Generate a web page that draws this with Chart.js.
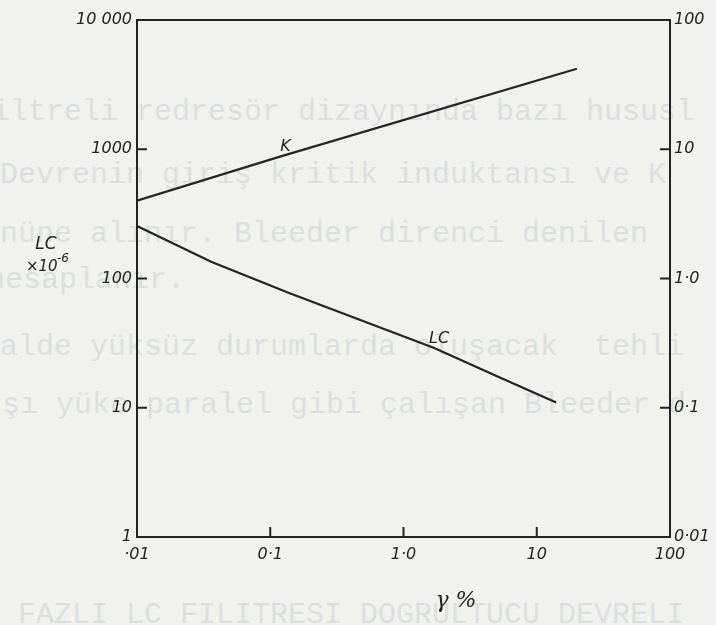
<!DOCTYPE html>
<html>
<head>
<meta charset="utf-8">
<script src="https://cdn.jsdelivr.net/npm/chart.js@4/dist/chart.umd.min.js"></script>
<style>
  html, body { margin: 0; padding: 0; background: #f1f1ed; overflow: hidden; }
  #wrap { position: relative; width: 716px; height: 625px; }
  .bg { position: absolute; left: 0; white-space: pre; font-family: "Liberation Mono", "DejaVu Sans Mono", monospace;
        font-size: 30px; line-height: 30px; color: #dcdfdf; }
  canvas { position: absolute; left: 0; top: 0; }
</style>
</head>
<body>
<div id="wrap">
  <div class="bg" style="top:97px;left:-8px">iltreli redresör dizaynında bazı hususl</div>
  <div class="bg" style="top:160px;left:0px">Devrenin giriş kritik induktansı ve K</div>
  <div class="bg" style="top:219px;left:0px">nüne alınır. Bleeder direnci denilen</div>
  <div class="bg" style="top:265px;left:-13px">hesaplanır.</div>
  <div class="bg" style="top:332px;left:0px">alde yüksüz durumlarda oluşacak  tehli</div>
  <div class="bg" style="top:390px;left:2px">şı yüke paralel gibi çalışan Bleeder d</div>
  <div class="bg" style="top:600px;left:18px">FAZLI LC FILITRESI DOGRULTUCU DEVRELI</div>
  <canvas id="c" width="716" height="625"></canvas>
</div>
<script>
// ---- data ----
const xTicks = [0.01, 0.1, 1, 10, 100];
const xTickLabels = ["·01", "0·1", "1·0", "10", "100"];
const leftTicks = [1, 10, 100, 1000, 10000];
const leftTickLabels = ["1", "10", "100", "1000", "10 000"];
const rightTicks = [0.01, 0.1, 1, 10, 100];
const rightTickLabels = ["0·01", "0·1", "1·0", "10", "100"];

const gammaLC = [0.01, 0.036, 0.14, 1.7, 5.6, 14];
const lcValues = [255, 135, 77, 29, 16.7, 11];
const gammaK = [0.01, 0.12, 20];
const kValues = [4.0, 8.8, 42];

const ink = "#232323";
const labelFont = { family: "'DejaVu Sans', 'Liberation Sans', sans-serif", size: 16, style: "italic" };

function pts(xs, ys) { return xs.map((x, i) => ({ x: x, y: ys[i] })); }
function labelFor(ticksArr, labels, v) {
  const i = ticksArr.findIndex(t => Math.abs(Math.log10(t) - Math.log10(v)) < 1e-6);
  return i >= 0 ? labels[i] : "";
}

const decorate = {
  id: "decorate",
  afterDraw(chart) {
    const ctx = chart.ctx;
    const a = chart.chartArea;
    const sx = chart.scales.x, sl = chart.scales.yL, sr = chart.scales.yR;
    ctx.save();
    ctx.strokeStyle = ink;
    ctx.lineWidth = 2;
    // frame
    ctx.strokeRect(a.left, a.top, a.right - a.left, a.bottom - a.top);
    // inner ticks
    const len = 10;
    ctx.beginPath();
    leftTicks.forEach(v => {
      const y = sl.getPixelForValue(v);
      if (y > a.top + 2 && y < a.bottom - 2) { ctx.moveTo(a.left, y); ctx.lineTo(a.left + len, y); }
    });
    rightTicks.forEach(v => {
      const y = sr.getPixelForValue(v);
      if (y > a.top + 2 && y < a.bottom - 2) { ctx.moveTo(a.right - len, y); ctx.lineTo(a.right, y); }
    });
    xTicks.forEach(v => {
      const x = sx.getPixelForValue(v);
      if (x > a.left + 2 && x < a.right - 2) { ctx.moveTo(x, a.bottom); ctx.lineTo(x, a.bottom - len); }
    });
    ctx.stroke();

    // curve labels
    ctx.fillStyle = ink;
    ctx.font = "italic 16px 'DejaVu Sans', sans-serif";
    ctx.textAlign = "center";
    ctx.textBaseline = "middle";
    ctx.fillText("K", sx.getPixelForValue(0.13), sr.getPixelForValue(10.5));
    ctx.fillText("LC", sx.getPixelForValue(1.85), sl.getPixelForValue(34));

    // left axis title
    ctx.font = "italic 17px 'DejaVu Sans', sans-serif";
    ctx.fillText("LC", 46, 245);
    ctx.font = "italic 15px 'DejaVu Sans', sans-serif";
    ctx.textAlign = "left";
    ctx.fillText("×10", 26, 267);
    ctx.font = "italic 12px 'DejaVu Sans', sans-serif";
    ctx.fillText("-6", 57, 259);

    // x axis title
    ctx.textAlign = "center";
    ctx.font = "italic 22px 'DejaVu Serif', serif";
    ctx.fillText("γ %", 456, 601);
    ctx.restore();
  }
};

new Chart(document.getElementById("c"), {
  type: "scatter",
  data: {
    datasets: [
      { label: "LC", data: pts(gammaLC, lcValues), yAxisID: "yL", showLine: true,
        borderColor: ink, borderWidth: 2.2, pointRadius: 0, tension: 0 },
      { label: "K", data: pts(gammaK, kValues), yAxisID: "yR", showLine: true,
        borderColor: ink, borderWidth: 2.2, pointRadius: 0, tension: 0 }
    ]
  },
  plugins: [decorate],
  options: {
    responsive: false,
    animation: false,
    layout: { padding: { top: 20, left: 0, right: 0, bottom: 0 } },
    plugins: { legend: { display: false }, tooltip: { enabled: false } },
    scales: {
      x: {
        type: "logarithmic", position: "bottom", min: 0.01, max: 100,
        afterBuildTicks: s => { s.ticks = xTicks.map(v => ({ value: v })); },
        afterFit: s => { s.height = 88; },
        grid: { display: false, drawTicks: false },
        border: { display: false },
        ticks: { color: ink, font: labelFont, padding: 8, maxRotation: 0, autoSkip: false,
                 callback: v => labelFor(xTicks, xTickLabels, v) }
      },
      yL: {
        type: "logarithmic", position: "left", min: 1, max: 10000,
        afterBuildTicks: s => { s.ticks = leftTicks.map(v => ({ value: v })); },
        afterFit: s => { s.width = 137; },
        grid: { display: false, drawTicks: false },
        border: { display: false },
        ticks: { color: ink, font: labelFont, padding: 5, autoSkip: false,
                 callback: v => labelFor(leftTicks, leftTickLabels, v) }
      },
      yR: {
        type: "logarithmic", position: "right", min: 0.01, max: 100,
        afterBuildTicks: s => { s.ticks = rightTicks.map(v => ({ value: v })); },
        afterFit: s => { s.width = 46; },
        grid: { display: false, drawTicks: false },
        border: { display: false },
        ticks: { color: ink, font: labelFont, padding: 4, autoSkip: false,
                 callback: v => labelFor(rightTicks, rightTickLabels, v) }
      }
    }
  }
});
</script>
</body>
</html>
